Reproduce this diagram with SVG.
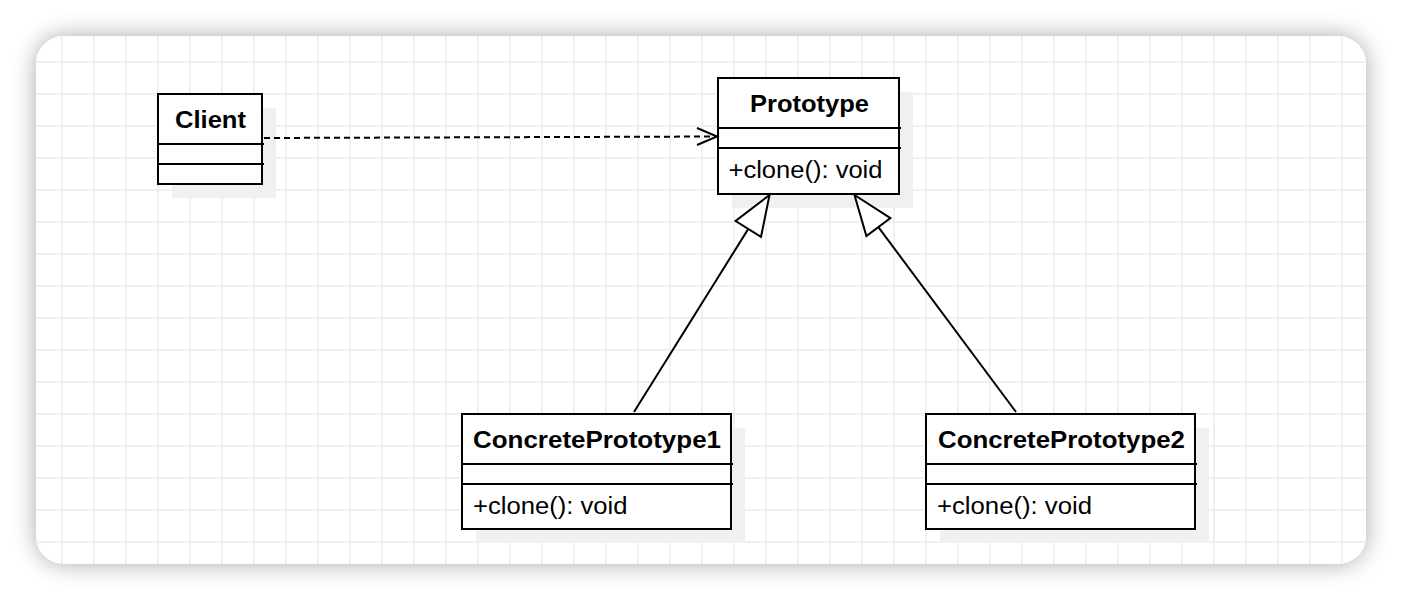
<svg xmlns="http://www.w3.org/2000/svg" width="1402" height="600" viewBox="0 0 1402 600">
  <defs>
    <filter id="cardShadow" x="-5%" y="-10%" width="110%" height="120%">
      <feGaussianBlur in="SourceAlpha" stdDeviation="12"/>
      <feComponentTransfer><feFuncA type="linear" slope="0.34"/></feComponentTransfer>
      <feMerge><feMergeNode/><feMergeNode in="SourceGraphic"/></feMerge>
    </filter>
    <pattern id="grid" patternUnits="userSpaceOnUse" x="46" y="46" width="32" height="32">
      <path d="M16 0V32M0 16H32" fill="none" stroke="#ececec" stroke-width="1.5"/>
    </pattern>
    <clipPath id="cardClip"><rect x="36" y="36" width="1330" height="528" rx="28" ry="28"/></clipPath>
  </defs>
  <style>
    .box { fill: #ffffff; stroke: #000000; stroke-width: 2; }
    .shadow { fill: #f0f0f0; stroke: none; }
    .div { stroke: #000000; stroke-width: 2; fill: none; }
    .title { font-family: "Liberation Sans", Arial, sans-serif; font-weight: bold; font-size: 23.5px; fill: #000000; }
    .member { font-family: "Liberation Sans", Arial, sans-serif; font-size: 23.5px; fill: #000000; }
    .edge { stroke: #000000; stroke-width: 2; fill: none; }
    .dashed { stroke-dasharray: 6 4; }
    .tri { fill: #ffffff; stroke: #000000; stroke-width: 2; stroke-linejoin: miter; }
  </style>

  <rect x="0" y="0" width="1402" height="600" fill="#ffffff"/>
  <rect x="36" y="36" width="1330" height="528" rx="28" ry="28" fill="#ffffff" filter="url(#cardShadow)"/>
  <rect x="36" y="36" width="1330" height="528" fill="url(#grid)" clip-path="url(#cardClip)"/>

  <g id="client">
    <rect class="shadow" x="172" y="108" width="104" height="90"/>
    <rect class="box" x="158" y="94" width="104" height="90"/>
    <path class="div" d="M158 144H264M158 164H264"/>
    <text class="title" x="210.5" y="127.5" text-anchor="middle" textLength="71" lengthAdjust="spacingAndGlyphs">Client</text>
  </g>

  <g id="prototype">
    <rect class="shadow" x="732" y="92" width="181" height="116"/>
    <rect class="box" x="718" y="78" width="181" height="116"/>
    <path class="div" d="M718 128H901M718 148H901"/>
    <text class="title" x="809.5" y="111.5" text-anchor="middle" textLength="119" lengthAdjust="spacingAndGlyphs">Prototype</text>
    <text class="member" x="728.5" y="178" textLength="154" lengthAdjust="spacingAndGlyphs">+clone(): void</text>
  </g>

  <g id="concrete1">
    <rect class="shadow" x="476" y="428" width="269" height="115"/>
    <rect class="box" x="462" y="414" width="269" height="115"/>
    <path class="div" d="M462 464H733M462 484H733"/>
    <text class="title" x="597" y="448" text-anchor="middle" textLength="248" lengthAdjust="spacingAndGlyphs">ConcretePrototype1</text>
    <text class="member" x="473" y="513.5" textLength="154.5" lengthAdjust="spacingAndGlyphs">+clone(): void</text>
  </g>

  <g id="concrete2">
    <rect class="shadow" x="940" y="428" width="269" height="115"/>
    <rect class="box" x="926" y="414" width="269" height="115"/>
    <path class="div" d="M926 464H1197M926 484H1197"/>
    <text class="title" x="1061.5" y="448" text-anchor="middle" textLength="247" lengthAdjust="spacingAndGlyphs">ConcretePrototype2</text>
    <text class="member" x="937" y="513.5" textLength="155" lengthAdjust="spacingAndGlyphs">+clone(): void</text>
  </g>

  <g id="connectors">
    <path class="edge dashed" d="M264 138 L716 136.5"/>
    <path class="edge" d="M697 128 L717 136.5 L697 145"/>
    <path class="edge" d="M748.3 228.9 L634 412"/>
    <polygon class="tri" points="769.5,195 761,236.9 735.6,221"/>
    <path class="edge" d="M878.4 227.1 L1016 412"/>
    <polygon class="tri" points="854.5,195 890.4,218.1 866.4,236.1"/>
  </g>
</svg>
